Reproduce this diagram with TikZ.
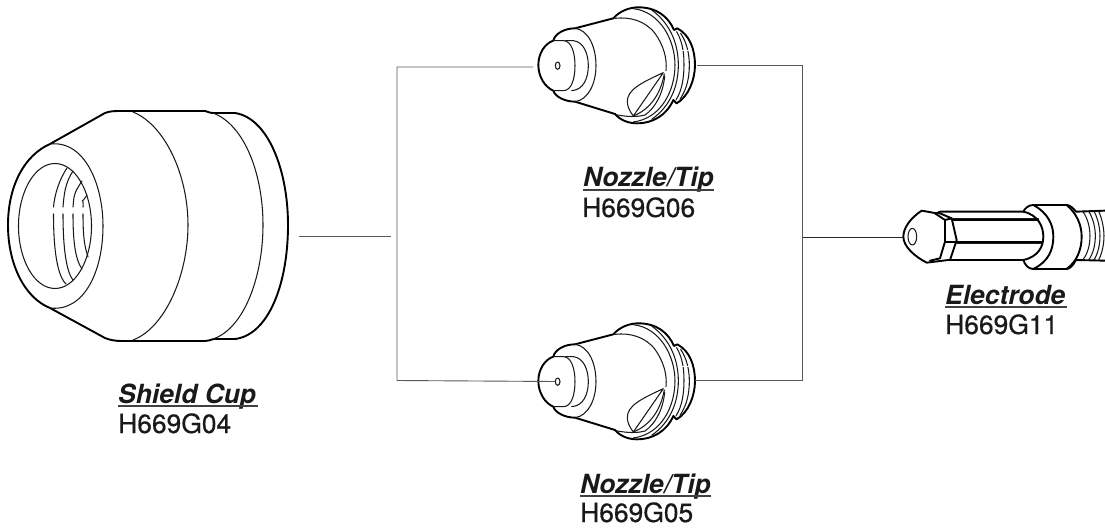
\documentclass[tikz,border=0pt]{standalone}
\usepackage{fontspec}
\setmainfont{TeX Gyre Heros}
\newfontfamily\codefont{TeX Gyre Heros}[RawFeature={embolden=0.5}]
\tikzset{
 thick part/.style={line width=1.9pt,line join=round,line cap=round,black},
 thin part/.style={line width=1.05pt,line join=round,line cap=round,black!90},
 wire/.style={line width=0.9pt,black!65},
 title label/.style={anchor=base west,inner sep=0pt,font=\fontsize{26.4}{30}\selectfont\bfseries\itshape,text=black!90},
 code label/.style={anchor=base west,inner sep=0pt,font=\fontsize{26.4}{30}\selectfont\codefont,text=black!90},
 rule line/.style={line width=1.3pt,black!75}
}
\newcommand{\nozzlepart}[1]{%
\begin{scope}[xshift=520pt,yshift=-#1pt,x=0.3333pt,y=-0.3333pt]
 \draw[thick part] (55,195) .. controls (55,160) and (75,130) .. (100,122) .. controls (105,100) and (135,85) .. (165,85) -- (280,55) .. controls (300,32) and (330,22) .. (355,22) .. controls (410,22) and (445,50) .. (462,90) -- (472,85) .. controls (510,105) and (525,150) .. (525,195) .. controls (525,240) and (505,290) .. (470,310) -- (460,300) .. controls (440,345) and (400,370) .. (350,370) .. controls (325,370) and (300,360) .. (285,342) -- (165,305) .. controls (135,305) and (105,290) .. (100,272) .. controls (75,262) and (55,230) .. (55,195);
 \draw[thin part] (100,122) -- (130,122) .. controls (155,122) and (165,160) .. (165,197) .. controls (165,235) and (155,272) .. (130,272) -- (100,272);
 \draw[thin part] (135,122) -- (160,122) .. controls (190,125) and (205,160) .. (205,197) .. controls (205,235) and (190,270) .. (155,272);
 \draw[thin part] (165,85) .. controls (205,90) and (228,140) .. (228,197) .. controls (228,250) and (205,300) .. (165,305);
 \draw[thin part] (285,55) .. controls (330,50) and (375,62) .. (405,100) .. controls (430,135) and (442,175) .. (438,212);
 \draw[thin part] (434,228) .. controls (430,280) and (405,325) .. (375,345) .. controls (350,352) and (320,350) .. (292,345);
 \draw[thin part] (340,26) .. controls (420,35) and (465,120) .. (465,195) .. controls (465,270) and (425,355) .. (340,366);
 \draw[thin part] (395,30) .. controls (450,70) and (475,130) .. (475,195) .. controls (475,260) and (450,320) .. (395,358);
 \draw[thin part] (470,95) .. controls (490,130) and (492,165) .. (492,195) .. controls (492,230) and (487,270) .. (468,300);
 \draw[thin part] (482,100) .. controls (502,130) and (508,165) .. (508,195) .. controls (508,230) and (502,265) .. (480,298);
 \draw[white,line width=0.8pt] (482,150) -- (510,150);
 \draw[thin part] (430,218) .. controls (360,250) and (322,270) .. (322,305) .. controls (322,320) and (330,335) .. (340,348) -- cycle;
 \draw[thin part] (340,348) .. controls (385,330) and (420,290) .. (433,222);
 \draw[thin part] (113,197) ellipse (7 and 11);
\end{scope}}
\begin{document}
\begin{tikzpicture}[x=1pt,y=-1pt]
\useasboundingbox (0,0) rectangle (1105,529);
% shield cup
\draw[thick part] (50,144) -- (105,113) .. controls (110,111) and (115,111) .. (122,111) -- (205,111) .. controls (208,112) and (210,113) .. (214,113) -- (235,113) .. controls (268,118) and (288,170) .. (288,225) .. controls (288,285) and (268,335) .. (235,339) -- (214,339) .. controls (210,340) and (208,341) .. (205,341) -- (122,341) .. controls (115,341) and (110,340) .. (105,338) -- (50,308) .. controls (25,298) and (8,265) .. (8,225) .. controls (8,185) and (25,155) .. (50,144);
\draw[thin part] (50,144) .. controls (85,140) and (103,185) .. (103,226) .. controls (103,270) and (85,312) .. (50,308);
\draw[thin part] (55,226) ellipse (36.5 and 62.5);
\draw[thin part] (133,112) .. controls (165,125) and (188,175) .. (188,225) .. controls (188,275) and (165,328) .. (133,340);
\draw[thin part] (213,113) .. controls (245,125) and (263,175) .. (263,225) .. controls (263,275) and (245,328) .. (213,339);
\foreach \xa/\ya/\xb/\xc/\yc in {67/168/53.5/66/284, 73/171/63/73/280, 82/181/73/82/269, 87/195/83/88/257}{
 \draw[thin part] (\xa,\ya) .. controls (\xa-8,\ya+12) and (\xb+1,195) .. (\xb,207);
 \draw[thin part] (\xb,214) .. controls (\xb,240) and (\xb+2,\yc-10) .. (\xc,\yc);
}
% nozzles
\nozzlepart{0}
\nozzlepart{316}
% electrode
\begin{scope}[xshift=890pt,yshift=-190pt,x=0.3333pt,y=-0.3333pt]
 \draw[thick part] (645,62) -- (558,65) .. controls (550,55) and (540,45) .. (530,45) -- (430,45) .. controls (415,45) and (405,55) .. (400,65) -- (150,65) -- (140,70) -- (95,62) .. controls (60,85) and (40,115) .. (40,140) .. controls (40,170) and (75,200) .. (110,218) -- (175,210) -- (400,210) .. controls (405,225) and (415,237) .. (430,237) -- (530,237) .. controls (540,237) and (550,225) .. (558,210) -- (645,212);
 \draw[thin part] (67,140) ellipse (13 and 25);
 \draw[thick part] (135,70) -- (165,90) -- (165,155) -- (150,205) -- (120,212);
 \draw[thick part] (145,68) -- (185,85) -- (200,150) -- (180,210);
 \draw[thick part] (165,90) -- (185,85);
 \draw[thick part] (165,155) -- (200,155);
 \draw[thick part] (190,90) -- (445,90);
 \draw[thin part] (190,85) -- (445,85);
 \draw[thick part] (200,156) -- (455,156);
 \draw[thin part] (200,161) -- (455,161);
 \draw[thick part] (400,65) .. controls (445,75) and (460,110) .. (460,140) .. controls (460,170) and (445,200) .. (400,210);
 \draw[thick part] (430,45) .. controls (475,70) and (490,105) .. (490,140) .. controls (490,180) and (475,215) .. (430,237);
 \draw[thick part] (530,45) .. controls (560,70) and (575,105) .. (575,140) .. controls (575,180) and (560,215) .. (530,237);
 \foreach \a/\b in {578/600,596/616,612/630,626/642}{
  \draw[thin part] (\a,64) .. controls (\b-6,85) and (\b,115) .. (\b,137) .. controls (\b,165) and (\b-6,190) .. (\a,210);
 }
\end{scope}
% connectors
\coordinate (shieldend) at (299,236);
\coordinate (midleft) at (391,236);
\coordinate (tl) at (397,67);
\coordinate (bl) at (397,380.5);
\coordinate (ntl) at (533,67);
\coordinate (nbl) at (555,381.5);
\coordinate (ntr) at (697,65.5);
\coordinate (nbr) at (695,380.5);
\coordinate (tr) at (802.5,65.5);
\coordinate (br) at (802.5,380.5);
\coordinate (midright) at (802.5,237);
\coordinate (elec) at (903,237);
\draw[wire] (shieldend) -- (midleft);
\draw[wire] (ntl) -- (tl) -- (bl) -- (nbl);
\draw[wire] (ntr) -- (tr) -- (br) -- (nbr);
\draw[line width=0.9pt,black!85] (midright) -- (elec);
% labels
\node[title label] (l1) at (118,403) {Shield Cup};
\node[code label] (c1) at (118,433) {H669G04};
\draw[rule line] (118,406) -- (258,406);
\node[title label] (l2) at (583,187) {Nozzle/Tip};
\node[code label] (c2) at (582,217) {H669G06};
\draw[rule line] (583,190) -- (714,190);
\node[title label] (l3) at (580,493) {Nozzle/Tip};
\node[code label] (c3) at (580,522) {H669G05};
\draw[rule line] (580,496) -- (711,496);
\node[title label] (l4) at (945,304) {Electrode};
\node[code label] (c4) at (945,334) {H669G11};
\draw[rule line] (945,307) -- (1067,307);
\end{tikzpicture}
\end{document}
